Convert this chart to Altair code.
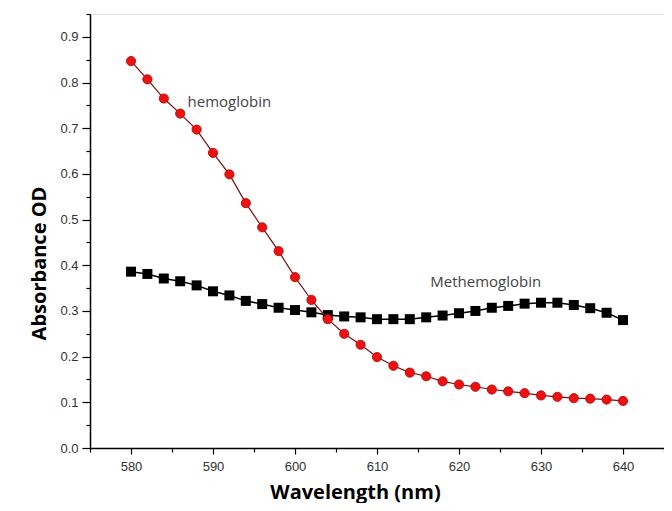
import altair as alt
import pandas as pd

wavelength = list(range(580, 641, 2))
hemoglobin = [0.847, 0.807, 0.765, 0.732, 0.697, 0.646, 0.599, 0.536, 0.483, 0.431,
              0.374, 0.324, 0.282, 0.250, 0.226, 0.199, 0.180, 0.165, 0.157, 0.146,
              0.139, 0.134, 0.128, 0.124, 0.120, 0.115, 0.112, 0.109, 0.108, 0.106, 0.103]
methemoglobin = [0.386, 0.381, 0.371, 0.365, 0.356, 0.343, 0.334, 0.322, 0.315, 0.307,
                 0.302, 0.297, 0.291, 0.288, 0.286, 0.282, 0.282, 0.282, 0.286, 0.290,
                 0.295, 0.300, 0.307, 0.311, 0.316, 0.318, 0.318, 0.313, 0.306, 0.296, 0.280]

label_text = ["hemoglobin", "Methemoglobin"]
label_x = [586.9, 616.5]
label_y = [0.757, 0.363]

x_major = [580, 590, 600, 610, 620, 630, 640]
x_minor = [575, 585, 595, 605, 615, 625, 635, 645]
y_major = [0.0, 0.1, 0.2, 0.3, 0.4, 0.5, 0.6, 0.7, 0.8, 0.9]
y_minor = [0.05, 0.15, 0.25, 0.35, 0.45, 0.55, 0.65, 0.75, 0.85, 0.95]

df = pd.DataFrame({
    "wl": wavelength * 2,
    "od": hemoglobin + methemoglobin,
    "series": ["hemoglobin"] * len(wavelength) + ["Methemoglobin"] * len(wavelength),
})
labels = pd.DataFrame({"text": label_text, "x": label_x, "y": label_y})

xscale = alt.Scale(domain=[575, 645], nice=False, zero=False)
yscale = alt.Scale(domain=[0, 0.95], nice=False, zero=False)

xaxis = alt.Axis(values=x_major, title="Wavelength (nm)", grid=False, tickSize=6,
                 tickColor="#000", domainColor="#000", domainWidth=1.5, tickWidth=1.2,
                 labelFont="Liberation Sans", labelFontSize=13, labelColor="#333",
                 labelPadding=6, titleFont="Open Sans", titleFontSize=20,
                 titleFontWeight="bold", titleColor="#000", titlePadding=9,
                 titleX=265, format="d", orient="bottom")
yaxis = alt.Axis(values=y_major, title="Absorbance OD", grid=False, tickSize=8,
                 tickColor="#000", domainColor="#000", domainWidth=1.5, tickWidth=1.2,
                 labelFont="Liberation Sans", labelFontSize=13, labelColor="#333",
                 labelPadding=4, titleFont="Open Sans", titleFontSize=20,
                 titleFontWeight="bold", titleColor="#000", titlePadding=10,
                 titleY=249, format=".1f", orient="left")

base = alt.Chart(df)
hb = base.transform_filter(alt.datum.series == "hemoglobin")
mhb = base.transform_filter(alt.datum.series == "Methemoglobin")

enc = dict(x=alt.X("wl:Q", scale=xscale, axis=xaxis),
           y=alt.Y("od:Q", scale=yscale, axis=yaxis))

mhb_line = mhb.mark_line(color="#000", strokeWidth=1.5).encode(**enc)
mhb_pts = mhb.mark_point(shape="square", filled=True, color="#000", size=100, opacity=1).encode(**enc)
hb_line = hb.mark_line(color="#7a1010", strokeWidth=1.2).encode(**enc)
hb_pts = hb.mark_point(shape="circle", filled=True, color="#ee1111", size=85, opacity=1,
                       stroke="#b00000", strokeWidth=0.8).encode(**enc)

text = alt.Chart(labels).mark_text(align="left", baseline="middle", font="Open Sans",
                                   fontSize=15, color="#444").encode(
    x=alt.X("x:Q", scale=xscale, axis=xaxis),
    y=alt.Y("y:Q", scale=yscale, axis=yaxis),
    text="text:N")

main = alt.layer(mhb_line, mhb_pts, hb_line, hb_pts, text)

minor = base.mark_point(opacity=0).encode(
    x=alt.X("wl:Q", scale=xscale,
            axis=alt.Axis(values=x_minor, labels=False, title=None, grid=False, domain=False,
                          tickSize=4, tickColor="#000", tickWidth=1.2, orient="bottom")),
    y=alt.Y("od:Q", scale=yscale,
            axis=alt.Axis(values=y_minor, labels=False, title=None, grid=False, domain=False,
                          tickSize=4, tickColor="#000", tickWidth=1.2, orient="left")),
)

chart = alt.layer(main, minor).resolve_axis(x="independent", y="independent").properties(
    width=574, height=434,
    autosize=alt.AutoSizeParams(type="none"),
    padding={"left": 82, "top": 6, "right": 0, "bottom": 55},
).configure_view(stroke=None).configure(background="white")

chart.save("out.html", embed_options={"renderer": "svg", "actions": False})
